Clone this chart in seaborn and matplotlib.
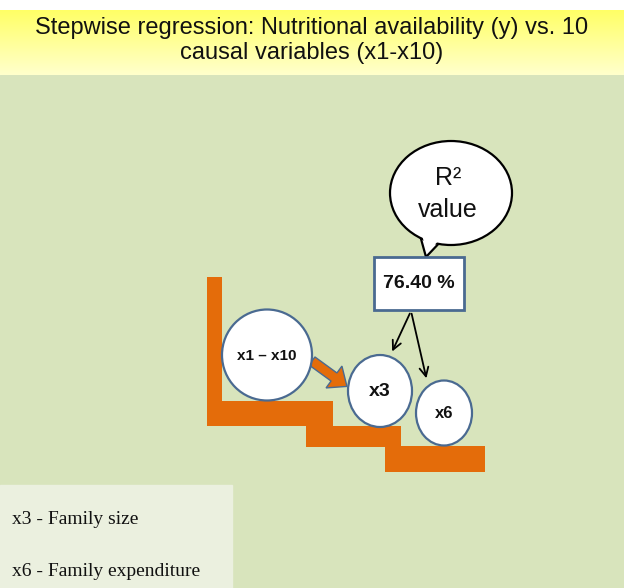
import numpy as np
import matplotlib
matplotlib.use("Agg")
import matplotlib.pyplot as plt
import seaborn as sns
from matplotlib.patches import Rectangle, Ellipse, Polygon, FancyArrow
from matplotlib.colors import LinearSegmentedColormap

sns.set_theme(style="white")
plt.rcParams["font.family"] = ["Liberation Sans", "DejaVu Sans"]

# chart content
title_lines = ["Stepwise regression: Nutritional availability (y) vs. 10",
               "causal variables (x1-x10)"]
node_labels = ["x1 \u2013 x10", "x3", "x6"]
selected = ["x3", "x6"]
r2_label = ["R\u00b2", "value"]
r2_value = 76.40
legend_lines = ["x3 - Family size", "x6 - Family expenditure"]

# layout (pixels, y down)
W, H = 624, 588
GREEN = "#d8e4bc"
ORANGE = "#e46c0a"
EDGE = "#4a6a91"
nodes = {
    "x1 \u2013 x10": dict(xy=(267, 355), w=90, h=91, fs=11),
    "x3": dict(xy=(380, 391), w=64, h=72, fs=14),
    "x6": dict(xy=(444, 413), w=56, h=65, fs=12),
}
steps = [(207, 277, 15, 149), (207, 401, 126, 25), (306, 426, 95, 21), (385, 446, 100, 26)]

fig = plt.figure(figsize=(W / 100, H / 100), dpi=100)
fig.patch.set_facecolor("white")
ax = fig.add_axes([0, 0, 1, 1])
ax.set_xlim(0, W)
ax.set_ylim(H, 0)
ax.axis("off")

# backgrounds
ax.add_patch(Rectangle((0, 75), W, H - 75, color=GREEN, zorder=0))
cmap = LinearSegmentedColormap.from_list("band", ["#ffff66", "#ffffcc"])
grad = np.linspace(0, 1, 100).reshape(-1, 1)
ax.imshow(grad, cmap=cmap, extent=(0, W, 75, 10), aspect="auto", zorder=0.5)
ax.add_patch(Rectangle((0, 485), 232, H - 485, color="#ebf0df", zorder=1))

for i, line in enumerate(title_lines):
    ax.text(W / 2, 28 + i * 25, line, ha="center", va="center", fontsize=17, color="#111111", zorder=3)

# staircase
for x, y, w, h in steps:
    ax.add_patch(Rectangle((x, y), w, h, color=ORANGE, lw=0, zorder=2))

# fat arrow from pool to x3
ax.add_patch(FancyArrow(312, 361, 22, 16, width=10, head_width=27, head_length=16,
                        length_includes_head=False, fc=ORANGE, ec=EDGE, lw=1, zorder=3))

# variable circles
for lab in node_labels:
    n = nodes[lab]
    ax.add_patch(Ellipse(n["xy"], n["w"], n["h"], fc="white", ec=EDGE, lw=1.6, zorder=4))
    ax.text(n["xy"][0], n["xy"][1] + 1, lab, ha="center", va="center", fontsize=n["fs"],
            fontweight="bold", color="#111111", zorder=5)

# speech bubble
bub_c, bub_w, bub_h = (451, 193), 122, 104
ax.add_patch(Polygon([(418, 228), (444, 238), (426, 257)], closed=True,
                     fc="white", ec="black", lw=1.6, zorder=4))
ax.add_patch(Ellipse(bub_c, bub_w, bub_h, fc="white", ec="black", lw=1.6, zorder=4.2))
ax.add_patch(Polygon([(420, 228), (442, 237), (427, 253)], closed=True, fc="white", ec="none", zorder=4.5))
ax.text(448, 178, r2_label[0], ha="center", va="center", fontsize=18, color="#111111", zorder=5)
ax.text(448, 210, r2_label[1], ha="center", va="center", fontsize=18, color="#111111", zorder=5)

# R2 value box
ax.add_patch(Rectangle((374, 257), 90, 53, fc="white", ec=EDGE, lw=2, zorder=4))
ax.text(419, 284, f"{r2_value:.2f} %", ha="center", va="center", fontsize=14,
        fontweight="bold", color="#111111", zorder=5)

# thin arrows to selected variables
ends = {"x3": (391, 354), "x6": (427, 381)}
for lab in selected:
    ax.annotate("", xy=ends[lab], xytext=(411, 311),
                arrowprops=dict(arrowstyle="->", color="black", lw=1.3, mutation_scale=16), zorder=5)

# legend text
for i, line in enumerate(legend_lines):
    ax.text(12, 519 + i * 53, line, ha="left", va="center", fontsize=14,
            family=["Liberation Serif", "DejaVu Serif"], color="#111111", zorder=3)

fig.savefig("out.png", dpi=100)
